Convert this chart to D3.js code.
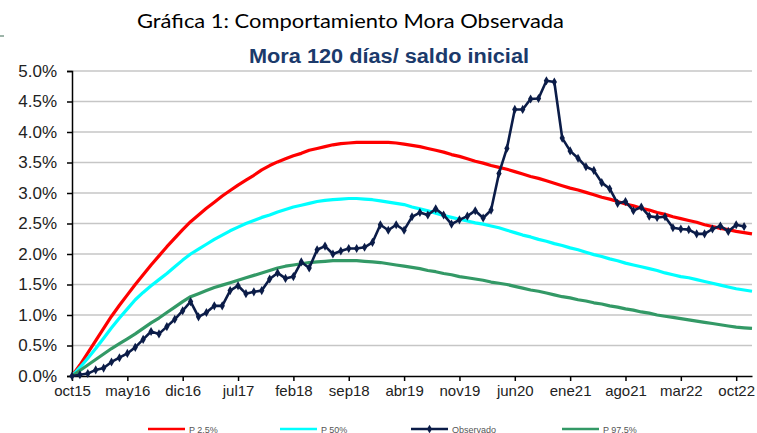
<!DOCTYPE html>
<html><head><meta charset="utf-8">
<script src="https://cdn.jsdelivr.net/npm/d3@7/dist/d3.min.js"></script>
<style>
html,body{margin:0;padding:0;background:#fff;}
svg{display:block;}
</style></head>
<body>
<svg id="chart" width="757" height="433"></svg>
<script>
// ---- data (monthly, oct15 = index 0) ----
const tickLabels = ["oct15","may16","dic16","jul17","feb18","sep18","abr19","nov19","jun20","ene21","ago21","mar22","oct22"];
const yTicks = [0,0.5,1.0,1.5,2.0,2.5,3.0,3.5,4.0,4.5,5.0];

const p25 = [0.00,0.18,0.38,0.58,0.78,0.98,1.16,1.33,1.50,1.66,1.82,1.97,2.12,2.26,2.40,2.53,2.64,2.75,2.85,2.95,
3.04,3.13,3.21,3.29,3.38,3.45,3.51,3.56,3.61,3.65,3.70,3.73,3.76,3.79,3.81,3.82,3.83,3.83,3.83,3.83,
3.83,3.82,3.80,3.78,3.76,3.73,3.70,3.67,3.63,3.60,3.56,3.52,3.49,3.45,3.42,3.39,3.35,3.31,3.27,3.24,
3.20,3.16,3.12,3.08,3.05,3.01,2.97,2.93,2.90,2.86,2.82,2.79,2.75,2.72,2.68,2.65,2.61,2.58,2.55,2.52,
2.48,2.45,2.42,2.40,2.37,2.35,2.33];

const p50 = [0.00,0.14,0.29,0.45,0.62,0.79,0.95,1.10,1.25,1.37,1.48,1.58,1.68,1.79,1.90,2.00,2.08,2.16,2.24,2.31,
2.38,2.44,2.50,2.55,2.60,2.64,2.69,2.73,2.77,2.80,2.83,2.86,2.88,2.89,2.90,2.91,2.91,2.90,2.89,2.87,
2.85,2.83,2.81,2.77,2.74,2.71,2.67,2.63,2.60,2.57,2.54,2.51,2.49,2.46,2.43,2.39,2.35,2.31,2.28,2.24,
2.21,2.17,2.14,2.10,2.07,2.03,1.99,1.96,1.92,1.89,1.85,1.82,1.79,1.76,1.73,1.69,1.66,1.63,1.61,1.58,
1.55,1.52,1.49,1.46,1.43,1.41,1.39];

const p975 = [0.00,0.09,0.18,0.27,0.36,0.45,0.53,0.61,0.69,0.78,0.87,0.95,1.04,1.13,1.22,1.30,1.35,1.40,1.45,1.49,
1.53,1.57,1.61,1.65,1.69,1.73,1.77,1.80,1.82,1.84,1.86,1.87,1.88,1.89,1.89,1.89,1.89,1.88,1.87,1.86,
1.84,1.82,1.80,1.78,1.76,1.73,1.71,1.68,1.66,1.63,1.61,1.59,1.57,1.54,1.52,1.50,1.47,1.44,1.41,1.39,
1.36,1.33,1.30,1.28,1.25,1.23,1.20,1.18,1.15,1.13,1.10,1.08,1.05,1.03,1.00,0.98,0.96,0.94,0.92,0.90,
0.88,0.86,0.84,0.82,0.80,0.79,0.78];

const observado = [0.00,0.02,0.04,0.10,0.13,0.23,0.30,0.37,0.47,0.60,0.73,0.69,0.81,0.93,1.07,1.22,0.97,1.04,1.15,1.15,
1.40,1.48,1.35,1.38,1.40,1.59,1.69,1.60,1.63,1.87,1.77,2.07,2.13,2.00,2.05,2.09,2.09,2.11,2.19,2.48,
2.39,2.48,2.39,2.61,2.68,2.64,2.74,2.64,2.49,2.56,2.62,2.71,2.59,2.72,3.32,3.73,4.37,4.37,4.54,4.55,
4.84,4.82,3.90,3.69,3.57,3.43,3.37,3.17,3.07,2.83,2.86,2.71,2.77,2.62,2.60,2.61,2.43,2.41,2.40,2.33,
2.33,2.41,2.46,2.37,2.48,2.45];

const seriesNames = ["P 2.5%","P 50%","Observado","P 97.5%"];
const seriesColors = ["#ff0000","#00ffff","#0b1c48","#339966"];

// ---- layout ----
const svg = d3.select("#chart");
const x = d3.scaleLinear().domain([0, 86]).range([72, 752]);
const y = d3.scaleLinear().domain([0, 5]).range([376, 71]);

// titles
svg.append("text").attr("x",137).attr("y",28)
  .attr("font-family","Lato, 'Open Sans', sans-serif").attr("font-size",20).attr("fill","#000")
  .attr("textLength",427).attr("lengthAdjust","spacingAndGlyphs")
  .text("Gráfica 1: Comportamiento Mora Observada");
svg.append("text").attr("x",249).attr("y",63)
  .attr("font-family","'Liberation Sans', Arial, sans-serif").attr("font-weight","bold")
  .attr("font-size",20).attr("fill","#1b3a6b")
  .attr("textLength",280).attr("lengthAdjust","spacingAndGlyphs")
  .text("Mora 120 días/ saldo inicial");
svg.append("line").attr("x1",0).attr("x2",4).attr("y1",36).attr("y2",36).attr("stroke","#3d6b55").attr("stroke-width",1);

// gridlines
svg.append("g").selectAll("line").data(yTicks.filter(d=>d>0)).join("line")
  .attr("x1",x(0)).attr("x2",x(86)).attr("y1",d=>y(d)).attr("y2",d=>y(d))
  .attr("stroke","#c6c6c6").attr("stroke-width",1.5);

// y axis
const yAxis = d3.axisLeft(y).tickValues(yTicks).tickFormat(d=>d.toFixed(1)+"%").tickSize(5).tickPadding(10);
const gy = svg.append("g").attr("transform",`translate(${x(0)},0)`).call(yAxis);
gy.select(".domain").attr("stroke","#000").attr("stroke-width",1.5);
gy.selectAll(".tick line").attr("stroke","#000").attr("stroke-width",1.5);
gy.selectAll("text").attr("font-family","'Liberation Sans', Arial, sans-serif").attr("font-size",17).attr("fill","#222");

// x axis
const xAxis = d3.axisBottom(x).tickValues(tickLabels.map((d,i)=>i*7))
  .tickFormat((d,i)=>tickLabels[i]).tickSize(5).tickSizeOuter(0).tickPadding(4);
const gx = svg.append("g").attr("transform",`translate(0,${y(0)})`).call(xAxis);
gx.select(".domain").attr("stroke","#000").attr("stroke-width",1.5);
gx.selectAll(".tick line").attr("stroke","#000").attr("stroke-width",1.5);
gx.selectAll("text").attr("font-family","'Liberation Sans', Arial, sans-serif").attr("font-size",15).attr("fill","#222");

// lines
const line = d3.line().x((d,i)=>x(i)).y(d=>y(d));
const lineData = [[p25,0],[p50,1],[p975,3]];
lineData.forEach(([arr,k])=>{
  svg.append("path").datum(arr).attr("d",line).attr("fill","none")
    .attr("stroke",seriesColors[k]).attr("stroke-width",3.2).attr("stroke-linejoin","round");
});
svg.append("path").datum(observado).attr("d",line).attr("fill","none")
  .attr("stroke",seriesColors[2]).attr("stroke-width",2.6).attr("stroke-linejoin","round");
const diamond = d3.symbol().type(d3.symbolDiamond).size(24);
svg.append("g").selectAll("path").data(observado).join("path")
  .attr("d",diamond).attr("transform",(d,i)=>`translate(${x(i)},${y(d)})`).attr("fill",seriesColors[2]);

// legend
const legendX = [148,280,411,562];
const lg = svg.append("g");
seriesNames.forEach((name,k)=>{
  const g = lg.append("g").attr("transform",`translate(${legendX[k]},429)`);
  g.append("line").attr("x1",0).attr("x2",37).attr("y1",0).attr("y2",0)
    .attr("stroke",seriesColors[k]).attr("stroke-width",2.5);
  if(k===2) g.append("path").attr("d",d3.symbol().type(d3.symbolDiamond).size(22)).attr("transform","translate(18.5,0)").attr("fill",seriesColors[k]);
  g.append("text").attr("x",41).attr("y",3.5).attr("font-family","'Liberation Sans', Arial, sans-serif")
    .attr("font-size",9).attr("fill","#555").text(name);
});
</script>
</body></html>
